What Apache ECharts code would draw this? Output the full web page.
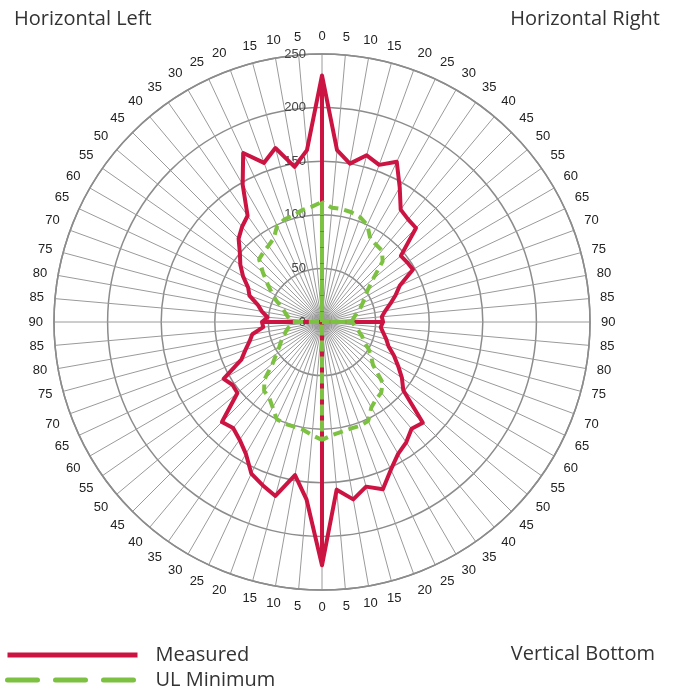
<!DOCTYPE html>
<html>
<head>
<meta charset="utf-8">
<script src="https://cdn.jsdelivr.net/npm/echarts@6/dist/echarts.min.js"></script>
<style>
  html, body { margin: 0; padding: 0; background: #fff; }
  #chart { width: 678px; height: 691px; }
</style>
</head>
<body>
<div id="chart"></div>
<script>
// angle step of the photometric readings (clockwise from top)
var angleStep = 5;

// measured candela values, 0..355 deg in 5 deg steps
var measured = [
  230, 161, 150, 161, 156, 165, 145, 128, 125, 124, 96, 97, 98, 80, 73, 66, 60, 56,
  57, 55, 58, 62, 66, 74, 82, 91, 99, 133, 130, 137, 142, 152, 166, 159, 168, 157,
  227, 166, 145, 168, 162, 156, 142, 134, 129, 132, 103, 102, 106, 83, 76, 70, 66, 55,
  56, 51, 57, 62, 72, 76, 85, 93, 100, 110, 116, 121, 148, 174, 158, 168, 147, 161
];

// UL minimum values, same angles
var ulMinimum = [
  112, 107, 107, 106, 104, 100, 90, 88, 87, 80, 62, 52, 46, 42, 38, 34, 31, 29,
  28, 30, 33, 36, 40, 43, 50, 56, 62, 80, 86, 88, 92, 102, 103, 103, 104, 106,
  110, 106, 102, 101, 101, 100, 92, 86, 84, 76, 60, 52, 46, 42, 38, 35, 32, 29,
  28, 30, 33, 36, 40, 47, 54, 62, 72, 83, 85, 87, 90, 99, 102, 103, 106, 108
];

var radiusTicks = [0, 50, 100, 150, 200, 250];

// polar path: each quadrant is tied back to the centre like the original plot
function buildPath (vals) {
  var out = [[0, 0]];
  for (var i = 0; i < vals.length; i++) {
    var a = i * angleStep;
    out.push([vals[i], a]);
    if (a === 90 || a === 180 || a === 270) {
      out.push([0, a]);
      out.push([vals[i], a]);
    }
  }
  out.push([vals[0], 360]);
  out.push([0, 360]);
  return out;
}

var myChart = echarts.init(document.getElementById('chart'));

var titleFont = { fontFamily: 'Open Sans', fontSize: 20, fontWeight: 'normal', color: '#333' };

var option = {
  animation: false,
  title: [
    { text: 'Horizontal Left', left: 9, top: 4, textStyle: titleFont },
    { text: 'Horizontal Right', right: 13, top: 4, textStyle: titleFont },
    { text: 'Vertical Bottom', right: 18, top: 639, textStyle: titleFont }
  ],
  legend: {
    orient: 'vertical',
    left: 5,
    top: 645,
    padding: 0,
    itemWidth: 130,
    itemHeight: 19,
    itemGap: 5,
    itemStyle: { color: 'transparent', borderWidth: 0, opacity: 0 },
    textStyle: { fontFamily: 'Open Sans', fontSize: 20, lineHeight: 19, color: '#333', padding: [0, 0, 0, 13] },
    data: [
      { name: 'Measured', lineStyle: { width: 5, color: '#cc1443' } },
      { name: 'UL Minimum', lineStyle: { width: 5, color: '#7dc142', type: [30, 18], cap: 'round' } }
    ]
  },
  polar: {
    center: [322, 322],
    radius: 268
  },
  angleAxis: {
    type: 'value',
    min: 0,
    max: 360,
    interval: angleStep,
    startAngle: 90,
    clockwise: true,
    axisLine: { show: true, lineStyle: { color: '#8c8c8c', width: 1.5 } },
    axisTick: { show: false },
    splitLine: { show: true, lineStyle: { color: '#9a9a9a', width: 1 } },
    axisLabel: {
      margin: 11,
      fontFamily: 'Liberation Sans',
      fontSize: 13,
      color: '#222',
      formatter: function (v) {
        v = Number(v);
        if (v <= 90) return v;
        if (v <= 180) return 180 - v;
        if (v <= 270) return v - 180;
        return 360 - v;
      }
    }
  },
  radiusAxis: {
    type: 'value',
    min: radiusTicks[0],
    max: radiusTicks[radiusTicks.length - 1],
    interval: 50,
    axisLine: { show: false },
    axisTick: { show: false },
    splitLine: { show: true, lineStyle: { color: '#8c8c8c', width: 1.5 } },
    axisLabel: {
      margin: 16,
      fontFamily: 'Liberation Sans',
      fontSize: 13,
      color: '#444'
    }
  },
  series: [
    {
      name: 'Measured',
      type: 'line',
      coordinateSystem: 'polar',
      symbol: 'none',
      color: '#cc1443',
      lineStyle: { color: '#cc1443', width: 4, join: 'round' },
      data: buildPath(measured),
      z: 3
    },
    {
      name: 'UL Minimum',
      type: 'line',
      coordinateSystem: 'polar',
      symbol: 'none',
      color: '#7dc142',
      lineStyle: { color: '#7dc142', width: 4, type: [10, 6] },
      data: buildPath(ulMinimum),
      z: 4
    }
  ]
};

myChart.setOption(option);
</script>
</body>
</html>
